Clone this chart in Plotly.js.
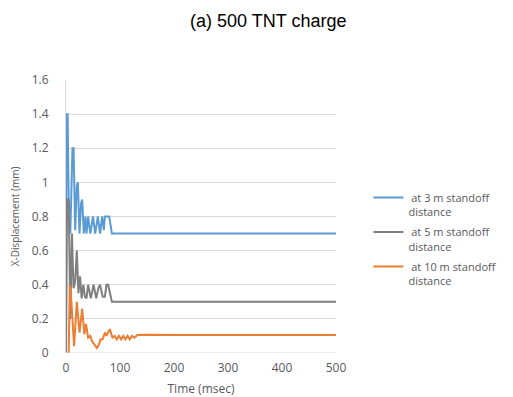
<!DOCTYPE html>
<html>
<head>
<meta charset="utf-8">
<script src="https://cdn.plot.ly/plotly-3.0.1.min.js"></script>
<style>
  html, body { margin: 0; padding: 0; background: #fff; }
  #chart { width: 513px; height: 397px; }
</style>
</head>
<body>
<div id="chart"></div>
<script>
// Displacement histories (mm) against time (msec)
const seriesNames = [
  '\u00a0at 3 m standoff<br>distance',
  '\u00a0at 5 m standoff<br>distance',
  '\u00a0at 10 m standoff<br>distance'
];

const time3m = [0, 1, 3, 5, 8, 12, 14, 17, 20, 22, 25, 28, 30, 33, 36, 38, 41, 45, 50, 54, 59, 63, 67, 70, 72, 80, 85, 500];
const disp3m = [0, 1.4, 1.4, 0.9, 0.7, 1.2, 1.2, 0.72, 0.98, 1.0, 0.7, 0.88, 0.9, 0.7, 0.8, 0.7, 0.8, 0.7, 0.8, 0.7, 0.8, 0.7, 0.8, 0.72, 0.8, 0.8, 0.7, 0.7];

const time5m = [0, 2, 5, 8, 11, 14, 17, 20, 23, 26, 29, 32, 35, 38, 41, 46, 51, 56, 60, 63, 68, 72, 75, 78, 85, 500];
const disp5m = [0, 0.9, 0.9, 0.2, 0.7, 0.38, 0.42, 0.6, 0.35, 0.45, 0.32, 0.4, 0.33, 0.32, 0.4, 0.32, 0.4, 0.32, 0.38, 0.4, 0.33, 0.33, 0.4, 0.4, 0.3, 0.3];

const time10m = [0, 5, 7, 10, 15, 20, 25, 30, 34, 37, 41, 45, 48, 53, 57, 61, 64, 68, 72, 75, 78, 81, 86, 90, 94, 98, 102, 106, 110, 114, 118, 122, 127, 132, 150, 200, 500];
const disp10m = [0, 0, 0.4, 0.3, 0.04, 0.3, 0.12, 0.26, 0.11, 0.17, 0.09, 0.1, 0.07, 0.05, 0.03, 0.05, 0.08, 0.08, 0.12, 0.1, 0.12, 0.14, 0.09, 0.1, 0.08, 0.1, 0.08, 0.1, 0.08, 0.1, 0.08, 0.1, 0.09, 0.105, 0.107, 0.105, 0.105];

const xTicks = [0, 100, 200, 300, 400, 500];
const yTicks = [0, 0.2, 0.4, 0.6, 0.8, 1, 1.2, 1.4, 1.6];

const colors = ['#5b9bd5', '#7f7f7f', '#ed7d31'];

const traces = [
  { x: time3m, y: disp3m, name: seriesNames[0] },
  { x: time5m, y: disp5m, name: seriesNames[1] },
  { x: time10m, y: disp10m, name: seriesNames[2] }
].map((t, i) => Object.assign(t, {
  type: 'scatter',
  mode: 'lines',
  legendgroup: 'g' + i,
  line: { color: colors[i], width: 2 },
  hoverinfo: 'skip'
}));

const tickFont = { family: 'Open Sans, sans-serif', size: 12, color: '#595959' };

const layout = {
  width: 513,
  height: 397,
  margin: { l: 66, r: 177, t: 80, b: 44 },
  paper_bgcolor: '#ffffff',
  plot_bgcolor: '#ffffff',
  title: {
    text: '(a) 500 TNT charge',
    font: { family: 'Liberation Sans, Arial, sans-serif', size: 18, color: '#000000' },
    x: 0.523, xanchor: 'center',
    y: 0.948, yanchor: 'middle'
  },
  xaxis: {
    range: [0, 500],
    tickvals: xTicks,
    ticktext: xTicks.map(String),
    showgrid: false,
    zeroline: false,
    showline: false,
    ticks: '',
    ticklabelstandoff: 6,
    tickfont: tickFont,
    title: { text: 'Time (msec)', font: { family: 'Open Sans, sans-serif', size: 12, color: '#595959' }, standoff: 9 }
  },
  yaxis: {
    range: [0, 1.6],
    tickvals: yTicks,
    ticktext: yTicks.map(String),
    showgrid: true,
    gridcolor: '#d9d9d9',
    gridwidth: 1,
    zeroline: false,
    showline: true,
    linecolor: '#d9d9d9',
    linewidth: 1,
    ticks: '',
    ticklabelstandoff: 14,
    tickfont: tickFont,
    title: { text: 'X-Displacement (mm)', font: { family: 'Open Sans, sans-serif', size: 10, color: '#595959' }, standoff: 10 }
  },
  showlegend: true,
  legend: {
    x: 1.12, xanchor: 'left',
    y: 0.62, yanchor: 'top',
    valign: 'top',
    font: { family: 'Open Sans, sans-serif', size: 11, color: '#595959' },
    tracegroupgap: 3,
    itemwidth: 30,
    bgcolor: 'rgba(0,0,0,0)'
  },
  shapes: [{
    type: 'line', xref: 'paper', yref: 'y',
    x0: 0, x1: 1, y0: 0, y1: 0,
    line: { color: '#d9d9d9', width: 1 }
  }]
};

Plotly.newPlot('chart', traces, layout, { displayModeBar: false, staticPlot: true });
</script>
</body>
</html>
